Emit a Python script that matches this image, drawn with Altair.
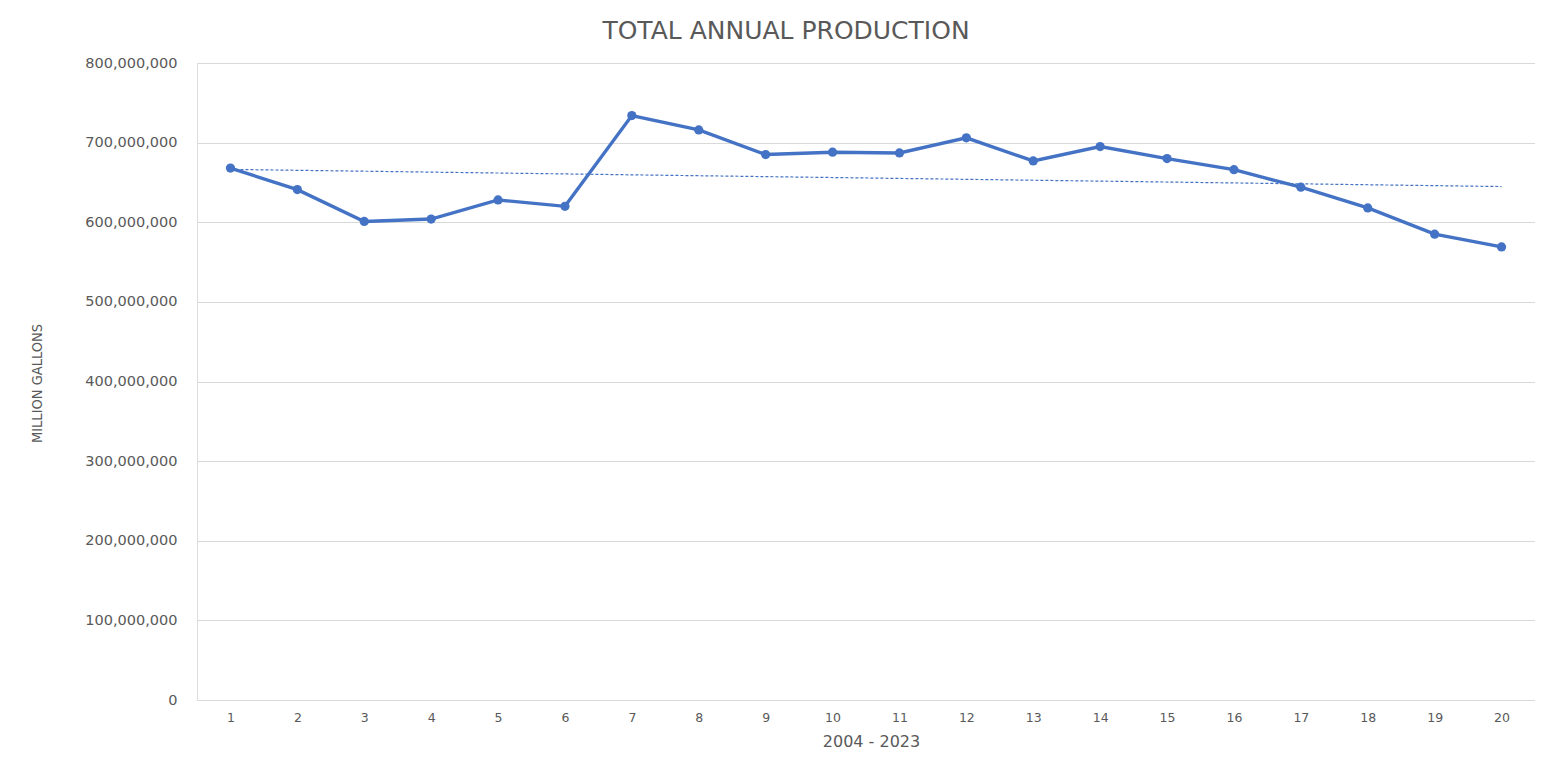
import altair as alt
import pandas as pd

years = list(range(1, 21))
production = [668_000_000, 641_000_000, 601_000_000, 604_000_000, 628_000_000,
              620_000_000, 734_000_000, 716_000_000, 685_000_000, 688_000_000,
              687_000_000, 706_000_000, 677_000_000, 695_000_000, 680_000_000,
              666_000_000, 644_000_000, 618_000_000, 585_000_000, 569_000_000]
y_ticks = [0, 100_000_000, 200_000_000, 300_000_000, 400_000_000,
           500_000_000, 600_000_000, 700_000_000, 800_000_000]

df = pd.DataFrame({"year": years, "gallons": production})

BLUE = "#4472C4"
GRAY = "#595959"

x_enc = alt.X(
    "year:Q",
    scale=alt.Scale(domain=[0.5, 20.5], nice=False, zero=False),
    axis=alt.Axis(
        values=years, title="2004 - 2023", grid=False, domain=False, ticks=False,
        labelPadding=11, labelFont="DejaVu Sans", labelFontSize=12.5, labelColor=GRAY,
        titleFont="DejaVu Sans", titleFontSize=16, titleColor=GRAY,
        titleFontWeight="normal", titleY=41, titleBaseline="middle", titleX=674,
    ),
)
y_enc = alt.Y(
    "gallons:Q",
    scale=alt.Scale(domain=[0, 800_000_000], nice=False),
    axis=alt.Axis(
        values=y_ticks, format=",.0f", title="MILLION GALLONS",
        grid=True, gridColor="#d9d9d9", gridWidth=1, domain=False, ticks=False,
        labelPadding=20, labelFont="DejaVu Sans", labelFontSize=14.5, labelColor=GRAY,
        titleFont="DejaVu Sans Condensed", titleFontSize=14.5, titleColor=GRAY,
        titleFontWeight="normal", titleAngle=270, titleX=-160, titleY=320,
        titleAlign="center", titleBaseline="middle",
    ),
)

base = alt.Chart(df)

line = base.mark_line(color=BLUE, strokeWidth=3.4).encode(x=x_enc, y=y_enc)
pts = base.mark_circle(color=BLUE, size=85, opacity=1).encode(x=x_enc, y=y_enc)
trend = base.transform_regression(
    "year", "gallons", extent=[1, 20]
).mark_line(color=BLUE, strokeWidth=1.2, strokeDash=[3, 2]).encode(x=x_enc, y=y_enc)

chart = alt.layer(trend, line, pts).properties(
    width=1338,
    height=637,
    title=alt.TitleParams(
        "TOTAL ANNUAL PRODUCTION", font="DejaVu Sans", fontSize=25,
        fontWeight="normal", color=GRAY, anchor="middle", offset=11, dx=-80,
    ),
    autosize=alt.AutoSizeParams(type="none"),
    padding={"left": 189, "top": 55, "right": 0, "bottom": 60},
).configure_view(stroke=None).configure(background="white")

chart.save("out.html", embed_options={"renderer": "svg", "actions": False})
